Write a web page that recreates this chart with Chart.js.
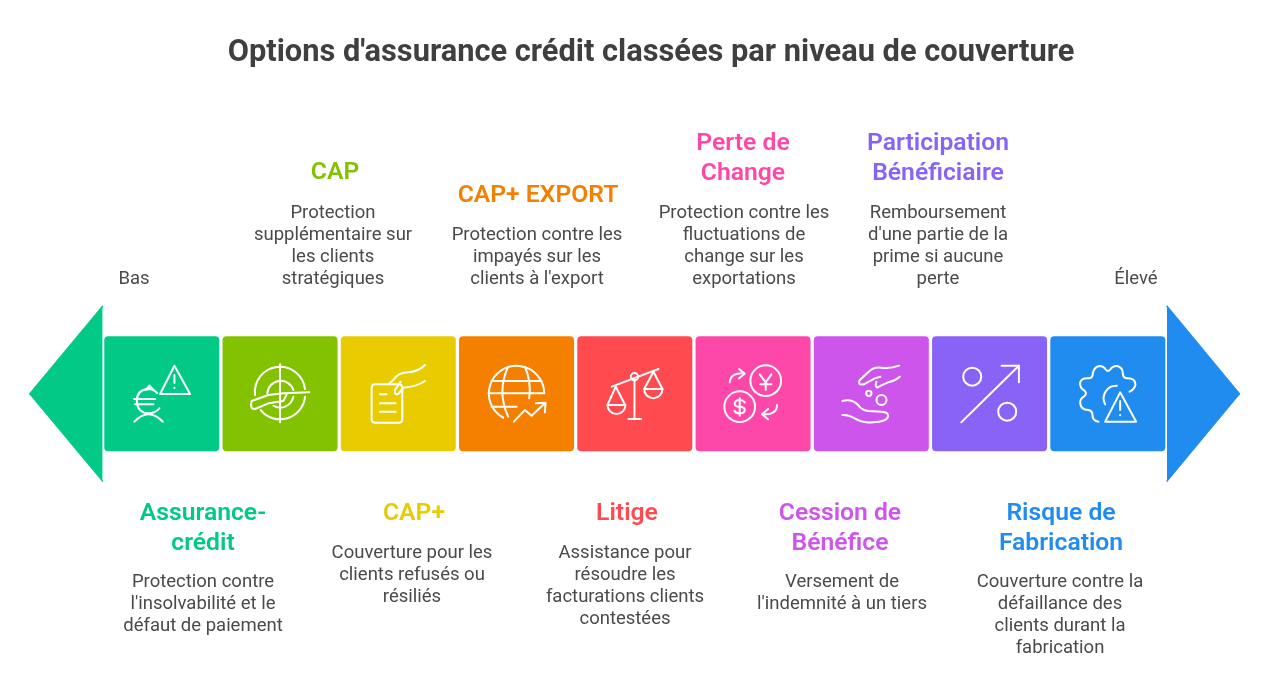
<!DOCTYPE html>
<html lang="fr">
<head>
<meta charset="utf-8">
<title>Options d'assurance crédit</title>
<style>html,body{margin:0;padding:0;background:#fff}canvas{display:block}</style>
<script src="https://cdn.jsdelivr.net/npm/chart.js@4/dist/chart.umd.min.js"></script>
</head>
<body>
<canvas id="c" width="1280" height="685"></canvas>
<script>
// ---- Data ----
const chartTitle = "Options d'assurance crédit classées par niveau de couverture";
const categories = ["Assurance-crédit","CAP","CAP+","CAP+ EXPORT","Litige","Perte de Change","Cession de Bénéfice","Participation Bénéficiaire","Risque de Fabrication"];
const coverageRank = [0,1,2,3,4,5,6,7,8];
const barRange = [-1,1];
const headingLines = [["Assurance-","crédit"],["CAP"],["CAP+"],["CAP+ EXPORT"],["Litige"],["Perte de","Change"],["Cession de","Bénéfice"],["Participation","Bénéficiaire"],["Risque de","Fabrication"]];
const bodyLines = [
 ["Protection contre","l'insolvabilité et le","défaut de paiement"],
 ["Protection","supplémentaire sur","les clients","stratégiques"],
 ["Couverture pour les","clients refusés ou","résiliés"],
 ["Protection contre les","impayés sur les","clients à l'export"],
 ["Assistance pour","résoudre les","facturations clients","contestées"],
 ["Protection contre les","fluctuations de","change sur les","exportations"],
 ["Versement de","l'indemnité à un tiers"],
 ["Remboursement","d'une partie de la","prime si aucune","perte"],
 ["Couverture contre la","défaillance des","clients durant la","fabrication"]
];
const axisEnds = ["Bas","Élevé"];
const leftArrowX = [-1.115,-0.5];
const rightArrowX = [8.5,9.112];
const leftArrowUpper = [0,1.52];
const leftArrowLower = [0,-1.52];
const rightArrowUpper = [1.52,0];
const rightArrowLower = [-1.52,0];

// ---- Styles / layout ----
const colors = ["#02C986","#83C200","#E8CC00","#F58000","#FF4A50","#FD48A9","#CE55EC","#8863F5","#208CF0"];
const headX = [203,335,414,538,627,743,840,938,1061];
const bodyX = [203,333,412,537,625,744,842,938,1060];
const headY = [514,173,514,196,514,144,514,144,514];
const bodyY = [582.6,213.6,553.6,235.6,553.6,213.6,582.6,213.6,582.6];
const endX = [134,1136];
const endY = 279.6;
const icons = [
 {o:[425,296],p:["M463 212L510 297L420 297Z","M463 240V264","M463 278V279","M411 294Q400 282 385 282Q350 284 350 318Q352 354 385 355Q405 355 418 340","M342 312H405","M345 328H400","M343 380Q385 335 428 380","M376 285L388 272L400 285","M388 272V282"]},
 {o:[780,296],p:["M705 300A75 75 0 0 1 855 282","M855 305A75 75 0 0 1 722 345","M742 295A40 40 0 0 1 820 285","M820 305A40 40 0 0 1 760 332","M780 208V382","M695 318L745 300L790 295L868 292","M695 318Q688 342 705 342L745 325L790 318L800 298"]},
 {o:[1135,296],p:["M1066 268H1136Q1147 268 1147 279V372Q1147 383 1136 383H1066Q1055 383 1055 372V279Q1055 268 1066 268Z","M1080 298H1100","M1080 325H1127","M1080 350H1127","M1215 210Q1195 230 1165 232Q1135 232 1120 255L1105 268","M1215 258Q1190 275 1150 278L1135 297Q1122 300 1125 285L1142 260"]},
 {o:[200,296],p:["M160 368A83 83 0 1 1 283 295","M175 215Q140 290 175 365","M225 215Q245 260 238 310","M125 258H275","M116 295H283","M125 335H200","M192 380L225 345L245 362L285 325","M258 325L287 323L285 352"]},
 {o:[554,296],p:["M485 275L625 222","M564 245A11 11 0 1 1 542 245A11 11 0 1 1 564 245Z","M553 256V372","M535 372H573","M497 275L472 330M497 275L525 330","M472 330A27 27 0 0 0 526 330Z","M610 230L582 282M610 230L637 282","M582 282A27 27 0 0 0 637 282Z"]},
 {o:[910,296],p:["M994 257A46 46 0 1 1 902 257A46 46 0 1 1 994 257Z","M916 335A46 46 0 1 1 824 335A46 46 0 1 1 916 335Z","M930 238L948 262L965 238","M948 262V285","M932 268H965","M870 310V362","M885 322Q880 315 870 315Q855 315 855 326Q855 335 870 335Q885 335 885 346Q885 355 870 355Q858 355 854 347","M840 262Q842 232 883 235","M868 222L885 236L868 250","M982 330Q982 360 937 358","M955 342L937 358L955 373"]},
 {o:[94.5,296],p:["M178 212Q150 222 125 218Q100 215 85 232L60 255Q52 272 72 268L105 250L122 245","M180 245Q165 258 145 262Q125 270 112 278Q105 275 110 260","M8 318Q35 310 55 330Q65 345 85 348L125 350Q148 352 145 365Q140 380 100 382Q70 385 45 370Q25 358 8 360","M95 295A8 8 0 1 1 79 295A8 8 0 1 1 95 295Z","M140 315A15 15 0 1 1 110 315A15 15 0 1 1 140 315Z"]},
 {o:[447,296],p:["M422 245A27 27 0 1 1 368 245A27 27 0 1 1 422 245Z","M527 350A27 27 0 1 1 473 350A27 27 0 1 1 527 350Z","M362 382L535 212","M483 212H535V262"]},
 {o:[803,296],p:["M775 380Q757 378 757 360Q757 348 745 345Q720 345 720 322Q720 310 733 303Q742 295 733 287Q718 278 720 262Q725 248 745 250Q758 250 758 235Q762 215 778 213Q790 213 797 224Q803 232 810 224Q818 212 832 213Q848 218 848 235Q848 250 862 250Q885 250 886 268Q884 283 868 290","M795 328A38 38 0 0 1 830 272","M840 292L888 380L795 380Z","M840 318V345","M840 360V361"]}
];
const bodyFont = "400 18.5px Roboto";
const headFont = "600 24.7px Roboto";
const textColor = "#4a4a4a";

// ---- Plugin: icons + annotations ----
const annotations = {
  id:"annotations",
  afterDatasetsDraw(chart){
    const ctx = chart.ctx, bars = chart.getDatasetMeta(0).data;
    ctx.save();
    ctx.strokeStyle="#fff"; ctx.lineCap="round"; ctx.lineJoin="round";
    icons.forEach((ic,i)=>{
      ctx.save();
      ctx.translate(bars[i].x,(bars[i].y+bars[i].base)/2);
      ctx.scale(1/3,1/3);
      ctx.translate(-ic.o[0],-ic.o[1]);
      ctx.lineWidth=6;
      ic.p.forEach(d=>ctx.stroke(new Path2D(d)));
      ctx.restore();
    });
    ctx.textAlign="center"; ctx.textBaseline="middle";
    categories.forEach((_,i)=>{
      ctx.font=headFont; ctx.fillStyle=colors[i];
      headingLines[i].forEach((t,k)=>ctx.fillText(t,headX[i],headY[i]+k*29.5));
      ctx.font=bodyFont; ctx.fillStyle=textColor;
      bodyLines[i].forEach((t,k)=>ctx.fillText(t,bodyX[i],bodyY[i]+k*22));
    });
    ctx.font=bodyFont; ctx.fillStyle=textColor;
    axisEnds.forEach((t,i)=>ctx.fillText(t,endX[i],endY));
    ctx.restore();
  }
};

const arrowPart = (xs,ys,color,fill)=>({type:"line",order:1,clip:false,
  data:xs.map((x,i)=>({x,y:ys[i]})),borderColor:color,backgroundColor:color,
  borderWidth:1.5,borderCapStyle:"round",fill,pointRadius:0,tension:0});

new Chart(document.getElementById("c"),{
  type:"bar",
  plugins:[annotations],
  data:{datasets:[
    {type:"bar",order:2,data:coverageRank.map(i=>({x:i,y:barRange})),backgroundColor:colors,
     borderRadius:4,borderSkipped:false,barPercentage:0.9725,categoryPercentage:1},
    arrowPart(leftArrowX,leftArrowUpper,colors[0],"+1"),
    arrowPart(leftArrowX,leftArrowLower,colors[0],false),
    arrowPart(rightArrowX,rightArrowUpper,colors[8],"+1"),
    arrowPart(rightArrowX,rightArrowLower,colors[8],false)
  ]},
  options:{
    responsive:false,animation:false,devicePixelRatio:1,
    layout:{padding:{left:22,right:0,top:0,bottom:203.3}},
    plugins:{
      legend:{display:false},tooltip:{enabled:false},
      title:{display:true,text:chartTitle,color:"#3f3f3f",align:"center",
        font:{family:"Roboto",size:30.8,weight:"700",lineHeight:1.2},
        padding:{top:34.5,bottom:234.2}}
    },
    scales:{
      x:{type:"linear",display:false,offset:false,min:-1.182,max:9.456},
      y:{type:"linear",display:false,min:-1.53,max:1.53}
    }
  }
});
</script>
</body>
</html>
